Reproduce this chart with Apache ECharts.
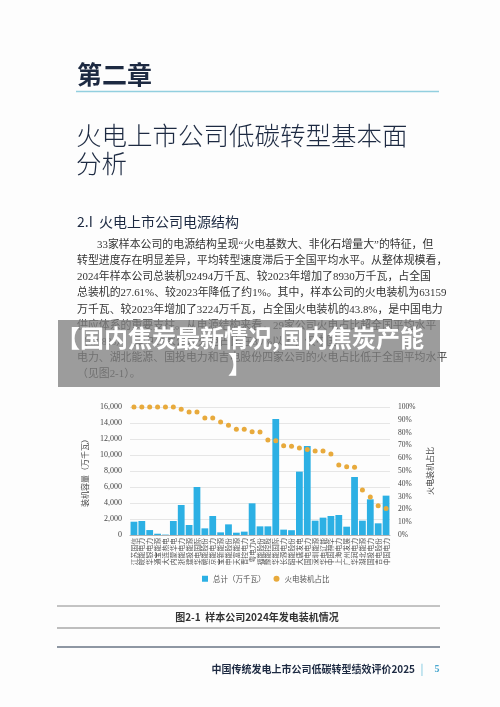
<!DOCTYPE html>
<html><head><meta charset="utf-8">
<script src="https://cdn.jsdelivr.net/npm/echarts@6/dist/echarts.min.js"></script>
<style>html,body{margin:0;padding:0;background:#fdfdfd;}#c{width:500px;height:707px;}</style>
</head><body><div id="c"></div>
<script>
const categories = ['江苏国信','皖能电力','华银电力','通宝能源','大连热电','内蒙华电','浙能电力','建投能源','华电国际','赣能股份','京能电力','宝新能源','申能股份','天富能源','晋控电力','粤电力A','福能股份','豫能控股','华能国际','长源电力','韶能股份','大唐发电','国电电力','深圳能源','华电辽能','中国神华','上海电力','广州发展','华润电力','湖北能源','国投电力','吉电股份','中国电力'];
const totalCapacity = [1660,1750,620,160,50,1750,3750,1250,6000,830,2375,330,1330,290,420,3960,1080,1080,14500,670,600,7920,11125,1790,2170,2375,2500,1040,7250,1790,4460,1460,4920];
const thermalShare = [100,100,100,100,100,100,98.3,96,96,91.4,91.4,88.3,85.7,82.6,82.6,80.7,80.5,74.2,73.7,69.8,69.3,68,66.7,65.6,65.6,63.3,54.7,53.4,52.9,35.2,29.7,22.9,20.8];
const leftAxisMax = 16000, leftAxisStep = 2000;
const rightAxisMax = 100, rightAxisStep = 10;
const seriesNames = ['总计（万千瓦）','火电装机占比'];
const bodyLines = [
 '33家样本公司的电源结构呈现“火电基数大、非化石增量大”的特征，但',
 '转型进度存在明显差异，平均转型速度滞后于全国平均水平。从整体规模看，',
 '2024年样本公司总装机92494万千瓦、较2023年增加了8930万千瓦，占全国',
 '总装机的27.61%、较2023年降低了约1%。其中，样本公司的火电装机为63159',
 '万千瓦、较2023年增加了3224万千瓦，占全国火电装机的43.8%，是中国电力',
 '供应体系的重要支柱。从电源结构来看，29家公司火电占比超全国平均水平',
 '（43.8%），其中16家公司火电占比在80%以上，仅中国',
 '电力、湖北能源、国投电力和吉电股份四家公司的火电占比低于全国平均水平',
 '（见图2-1）。'
];

const CJK = '"Noto Sans CJK SC", sans-serif';
const SERIF = '"Liberation Serif", "Noto Sans CJK SC", serif';
const navy = '#1d2a42';

const g = [];
g.push({type:'text', x:77, y:74, z:5, style:{text:'第二章', font:'bold 25px '+CJK, fill:navy, verticalAlign:'middle'}});
g.push({type:'line', z:5, shape:{x1:76, y1:91.5, x2:439, y2:91.5}, style:{stroke:'#92cfdf', lineWidth:1.6}});
g.push({type:'text', x:76, y:135, z:5, style:{text:'火电上市公司低碳转型基本面', font:'300 25.5px '+CJK, fill:navy, verticalAlign:'middle'}});
g.push({type:'text', x:76, y:163, z:5, style:{text:'分析', font:'300 25.5px '+CJK, fill:navy, verticalAlign:'middle'}});
g.push({type:'text', x:77, y:222, z:5, style:{text:'2.I  火电上市公司电源结构', font:'14px '+CJK, fill:navy, verticalAlign:'middle'}});
bodyLines.forEach((t,i)=>{
  g.push({type:'text', x: i===0 ? 97 : 77, y: 245 + i*16.2, z:5,
    style:{text:t, font:'10.9px '+SERIF, fill:'#333', verticalAlign:'middle'}});
});
// overlay
g.push({type:'rect', z:10, shape:{x:58, y:320, width:382, height:67}, style:{fill:'rgba(128,128,128,0.78)'}});
g.push({type:'text', x:240, y:338, z:11, style:{text:'【国内焦炭最新情况,国内焦炭产能', font:'bold 24px '+CJK, fill:'#ffffff', align:'center', verticalAlign:'middle'}});
g.push({type:'text', x:240, y:364, z:11, style:{text:'】', font:'bold 24px '+CJK, fill:'#ffffff', align:'center', verticalAlign:'middle'}});
// caption + footer
g.push({type:'line', z:5, shape:{x1:57, y1:606, x2:440, y2:606}, style:{stroke:'#8a8a8a', lineWidth:1}});
g.push({type:'text', x:257, y:617, z:5, style:{text:'图2-1  样本公司2024年发电装机情况', font:'bold 10px '+CJK, fill:'#333', align:'center', verticalAlign:'middle'}});
g.push({type:'line', z:5, shape:{x1:57, y1:628, x2:440, y2:628}, style:{stroke:'#a8a8a8', lineWidth:1.5}});
g.push({type:'line', z:5, shape:{x1:57, y1:647, x2:440, y2:647}, style:{stroke:'#8e97a3', lineWidth:2}});
g.push({type:'text', x:415, y:669, z:5, style:{text:'中国传统发电上市公司低碳转型绩效评价2025', font:'bold 10px '+CJK, fill:navy, align:'right', verticalAlign:'middle'}});
g.push({type:'text', x:422, y:669, z:5, style:{text:'|', font:'11px '+CJK, fill:'#6fc0db', align:'center', verticalAlign:'middle'}});
g.push({type:'text', x:437, y:669, z:5, style:{text:'5', font:'bold 10px '+SERIF, fill:'#4aa8d0', align:'center', verticalAlign:'middle'}});

const chart = echarts.init(document.getElementById('c'), null, {renderer:'canvas'});
chart.setOption({
  backgroundColor:'#fdfdfd',
  animation:false,
  graphic: g,
  legend:{
    left:197, top:570, itemWidth:6, itemHeight:6, itemGap:8,
    textStyle:{fontSize:7.5, color:'#555', fontFamily:CJK},
    data:[{name:seriesNames[0], icon:'rect'},{name:seriesNames[1], icon:'circle'}]
  },
  grid:{left:130, right:110, top:407, bottom:172, containLabel:false},
  xAxis:{
    type:'category', data:categories,
    axisLine:{lineStyle:{color:'#b5b5b5', width:1}},
    axisTick:{show:false},
    axisLabel:{interval:0, rotate:90, fontSize:6.8, color:'#555', margin:3, fontFamily:CJK}
  },
  yAxis:[{
    type:'value', min:0, max:leftAxisMax, interval:leftAxisStep,
    name:'装机容量（万千瓦）', nameLocation:'middle', nameGap:35, nameRotate:90,
    nameTextStyle:{fontSize:8, color:'#444', fontFamily:CJK},
    axisLine:{show:false}, axisTick:{show:false},
    axisLabel:{fontSize:8, color:'#444', margin:8, fontFamily:SERIF},
    splitLine:{lineStyle:{color:'#e6e6e6', width:1}}
  },{
    type:'value', min:0, max:rightAxisMax, interval:rightAxisStep,
    name:'火电装机占比', nameLocation:'middle', nameGap:32, nameRotate:90,
    nameTextStyle:{fontSize:8, color:'#444', fontFamily:CJK},
    axisLine:{show:false}, axisTick:{show:false},
    axisLabel:{fontSize:7.5, color:'#444', margin:8, fontFamily:SERIF, formatter:'{value}%'},
    splitLine:{show:false}
  }],
  series:[{
    name:seriesNames[0], type:'bar', data:totalCapacity, yAxisIndex:0,
    barCategoryGap:'14%',
    itemStyle:{color:'#2cb0e4'}
  },{
    name:seriesNames[1], type:'line', data:thermalShare, yAxisIndex:1,
    symbol:'circle', symbolSize:5,
    lineStyle:{opacity:0, width:0},
    itemStyle:{color:'#e8aa3c'}, z:5
  }]
});
</script></body></html>
